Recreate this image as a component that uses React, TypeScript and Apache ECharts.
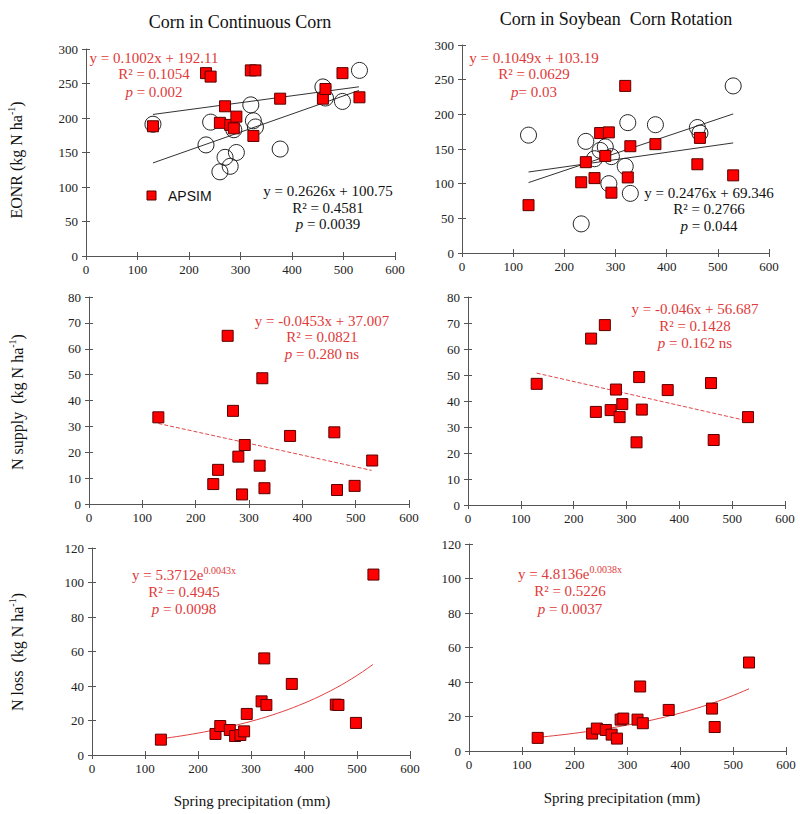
import React, { useEffect, useRef } from "react";
import * as echarts from "echarts";

// Spring precipitation (mm) for each site-year
const precipCC = [130, 233, 242, 260, 270, 280, 287, 292, 320, 325, 329, 377, 460, 465, 498, 531];
const precipSC = [130, 233, 242, 259, 270, 280, 287, 292, 319, 324, 329, 378, 460, 465, 530];

// EONR (kg N/ha)
const eonrCCApsim = [188, 265, 260, 193, 217, 190, 185, 202, 269, 174, 269, 228, 228, 242, 265, 230];
const eonrCCObs = [191, 161, 194, 122, 143, 130, 183, 150, 219, 196, 187, 155, 245, 229, 224, 269];
const eonrSCApsim = [69, 102, 131, 108, 173, 140, 174, 87, 241, 109, 154, 157, 128, 166, 112];
const eonrSCObs = [170, 42, 161, 136, 148, 153, 100, 139, 125, 188, 86, 185, 181, 173, 241];

// N supply (kg N/ha)
const nSupplyCC = [33.5, 7.7, 13.2, 65, 36, 18.3, 3.7, 22.8, 14.8, 48.6, 6.1, 26.3, 27.7, 5.4, 7.0, 16.8];
const nSupplySC = [46.6, 64, 35.8, 69.2, 36.5, 44.4, 33.8, 38.8, 24.1, 49.2, 36.7, 44.2, 46.9, 25, 33.8];

// N loss (kg N/ha)
const nLossCC = [8.9, 12.2, 16.8, 14.5, 11, 11.6, 13.7, 23.8, 31.1, 56, 29, 41.2, 29.2, 29, 18.6, 104.6];
const nLossSC = [7.6, 10.1, 13, 12.2, 9.5, 7.2, 18.2, 18.8, 18.2, 37.4, 16.1, 23.8, 24.6, 13.9, 51.3];

// Fitted trend coefficients shown on the chart
const fitEonrCCApsim = [0.1002, 192.11];
const fitEonrCCObs = [0.2626, 100.75];
const fitEonrSCApsim = [0.1049, 103.19];
const fitEonrSCObs = [0.2476, 69.346];
const fitSupplyCC = [-0.0453, 37.007];
const fitSupplySC = [-0.046, 56.687];
const fitLossCC = [5.3712, 0.0043];
const fitLossSC = [4.8136, 0.0038];
const fitRange = [130, 530];

// Axis ranges [min, max, interval]
const xRange = [0, 600, 100];
const eonrRange = [0, 300, 50];
const supplyRange = [0, 80, 10];
const lossRange = [0, 120, 20];

const SERIF = "Liberation Serif";
const SANS = "Liberation Sans";
const RED_TEXT = "#e03a3a";
const RED_FILL = "#ff0000";
const RED_EDGE = "#5a0000";

const pairs = (xs: number[], ys: number[]) => xs.map((x, i) => [x, ys[i]]);
const linFit = (c: number[]) => fitRange.map((x) => [x, c[0] * x + c[1]]);
const expFit = (c: number[]) => {
  const pts: number[][] = [];
  for (let x = fitRange[0]; x <= fitRange[1]; x += 10) pts.push([x, c[0] * Math.exp(c[1] * x)]);
  return pts;
};

const grids = [
  { left: 86, top: 49, width: 309, height: 207 },
  { left: 462, top: 45, width: 307, height: 208 },
  { left: 89, top: 297, width: 320, height: 207 },
  { left: 468, top: 297, width: 317, height: 208 },
  { left: 92, top: 548, width: 318, height: 207 },
  { left: 469, top: 544, width: 317, height: 207 },
];
const yRanges = [eonrRange, eonrRange, supplyRange, supplyRange, lossRange, lossRange];

const richSet = (color: string, size: number) => ({
  t: { fontFamily: SERIF, fontSize: size, fill: color, lineHeight: size + 4 },
  i: { fontFamily: SERIF, fontSize: size, fill: color, fontStyle: "italic", lineHeight: size + 4 },
  s: { fontFamily: SERIF, fontSize: Math.round(size * 0.65), fill: color, verticalAlign: "top", lineHeight: size + 4 },
});

const eq = (x: number, y: number, text: string, color: string) => ({
  type: "text",
  x,
  y,
  style: {
    text,
    fill: color,
    fontFamily: SERIF,
    fontSize: 15,
    align: "center",
    verticalAlign: "middle",
    rich: richSet(color, 15),
  },
});

const eqBlock = (cx: number, ys: number[], lines: string[], color: string) =>
  lines.map((t, i) => eq(cx, ys[i], t, color));

const yName = (x: number, y: number, label: string) => ({
  type: "text",
  x,
  y,
  rotation: Math.PI / 2,
  style: {
    text: `{t|${label}(kg N ha}{s|-1}{t|)}`,
    fill: "#111",
    fontFamily: SERIF,
    fontSize: 16,
    align: "center",
    verticalAlign: "middle",
    rich: richSet("#111", 16),
  },
});

const plain = (x: number, y: number, text: string, size: number, family = SERIF) => ({
  type: "text",
  x,
  y,
  style: { text, fill: "#111", fontFamily: family, fontSize: size, align: "center", verticalAlign: "middle" },
});

function buildOption() {
  const xAxis: any[] = [];
  const yAxis: any[] = [];
  grids.forEach((_, g) => {
    const yr = yRanges[g];
    xAxis.push({
      type: "value", gridIndex: g, position: "bottom", min: xRange[0], max: xRange[1], interval: xRange[2],
      axisLine: { show: true, onZero: false, lineStyle: { color: "#555", width: 1 } },
      axisTick: { show: true, length: 4, lineStyle: { color: "#555" } },
      axisLabel: { color: "#222", fontFamily: SERIF, fontSize: 13, margin: 7 },
      splitLine: { show: false },
    });
    xAxis.push({
      type: "value", gridIndex: g, position: "bottom", min: xRange[0], max: xRange[1], interval: xRange[2],
      axisLine: { show: false, onZero: false },
      axisTick: { show: true, inside: true, length: 4, lineStyle: { color: "#555" } },
      axisLabel: { show: false }, splitLine: { show: false },
    });
    yAxis.push({
      type: "value", gridIndex: g, position: "left", min: yr[0], max: yr[1], interval: yr[2],
      axisLine: { show: true, onZero: false, lineStyle: { color: "#555", width: 1 } },
      axisTick: { show: true, length: 4, lineStyle: { color: "#555" } },
      axisLabel: { color: "#222", fontFamily: SERIF, fontSize: 13, margin: 8 },
      splitLine: { show: false },
    });
    yAxis.push({
      type: "value", gridIndex: g, position: "left", min: yr[0], max: yr[1], interval: yr[2],
      axisLine: { show: false, onZero: false },
      axisTick: { show: true, inside: true, length: 4, lineStyle: { color: "#555" } },
      axisLabel: { show: false }, splitLine: { show: false },
    });
  });

  const squares = (g: number, data: number[][]) => ({
    type: "scatter", xAxisIndex: 2 * g, yAxisIndex: 2 * g, data, symbol: "rect", symbolSize: 11, z: 4,
    itemStyle: { color: RED_FILL, borderColor: RED_EDGE, borderWidth: 1, opacity: 1 },
  });
  const circles = (g: number, data: number[][]) => ({
    type: "scatter", xAxisIndex: 2 * g, yAxisIndex: 2 * g, data, symbol: "circle", symbolSize: 16, z: 3,
    itemStyle: { color: "rgba(255,255,255,0)", borderColor: "#222", borderWidth: 1, opacity: 1 },
  });
  const trend = (g: number, data: number[][], color: string, dashed = false) => ({
    type: "line", xAxisIndex: 2 * g, yAxisIndex: 2 * g, data, symbol: "none", smooth: false, z: 2,
    lineStyle: { color, width: 1, type: dashed ? [4, 2] : "solid" },
  });

  const series = [
    trend(0, linFit(fitEonrCCApsim), "#333"),
    trend(0, linFit(fitEonrCCObs), "#333"),
    circles(0, pairs(precipCC, eonrCCObs)),
    squares(0, pairs(precipCC, eonrCCApsim)),
    trend(1, linFit(fitEonrSCApsim), "#333"),
    trend(1, linFit(fitEonrSCObs), "#333"),
    circles(1, pairs(precipSC, eonrSCObs)),
    squares(1, pairs(precipSC, eonrSCApsim)),
    trend(2, linFit(fitSupplyCC), "#e04848", true),
    squares(2, pairs(precipCC, nSupplyCC)),
    trend(3, linFit(fitSupplySC), "#e04848", true),
    squares(3, pairs(precipSC, nSupplySC)),
    trend(4, expFit(fitLossCC), "#e04040"),
    squares(4, pairs(precipCC, nLossCC)),
    trend(5, expFit(fitLossSC), "#e04040"),
    squares(5, pairs(precipSC, nLossSC)),
  ];

  const graphic: any[] = [
    plain(240, 22, "Corn in Continuous Corn", 18),
    plain(616, 19, "Corn in Soybean  Corn Rotation", 18),
    yName(16, 160, "EONR "),
    yName(17, 402, "N supply  "),
    yName(17, 652, "N loss  "),
    plain(252, 801, "Spring precipitation (mm)", 15),
    plain(622, 798, "Spring precipitation (mm)", 15),
    // legend
    { type: "rect", shape: { x: 147, y: 191, width: 9, height: 9 }, style: { fill: RED_FILL, stroke: RED_EDGE, lineWidth: 1 } },
    { type: "text", x: 168, y: 196, style: { text: "APSIM", fill: "#111", fontFamily: SANS, fontSize: 14, align: "left", verticalAlign: "middle" } },
    ...eqBlock(154, [58, 74, 92], ["{t|y = 0.1002x + 192.11}", "{t|R² = 0.1054}", "{i|p}{t| = 0.002}"], RED_TEXT),
    ...eqBlock(328, [191, 208, 224], ["{t|y = 0.2626x + 100.75}", "{t|R² = 0.4581}", "{i|p}{t| = 0.0039}"], "#111"),
    ...eqBlock(534, [58, 74, 92], ["{t|y = 0.1049x + 103.19}", "{t|R² = 0.0629}", "{i|p}{t|= 0.03}"], RED_TEXT),
    ...eqBlock(709, [193, 209, 226], ["{t|y = 0.2476x + 69.346}", "{t|R² = 0.2766}", "{i|p}{t| = 0.044}"], "#111"),
    ...eqBlock(322, [321, 337, 354], ["{t|y = -0.0453x + 37.007}", "{t|R² = 0.0821}", "{i|p}{t| = 0.280 ns}"], RED_TEXT),
    ...eqBlock(695, [309, 326, 343], ["{t|y = -0.046x + 56.687}", "{t|R² = 0.1428}", "{i|p}{t| = 0.162 ns}"], RED_TEXT),
    ...eqBlock(184, [575, 592, 609], ["{t|y = 5.3712e}{s|0.0043x}", "{t|R² = 0.4945}", "{i|p}{t| = 0.0098}"], RED_TEXT),
    ...eqBlock(570, [574, 591, 609], ["{t|y = 4.8136e}{s|0.0038x}", "{t|R² = 0.5226}", "{i|p}{t| = 0.0037}"], RED_TEXT),
  ];

  return {
    animation: false,
    backgroundColor: "#ffffff",
    textStyle: { fontFamily: SERIF },
    grid: grids.map((g) => ({ ...g, containLabel: false })),
    xAxis,
    yAxis,
    series,
    graphic,
  };
}

export default function App() {
  const ref = useRef<HTMLDivElement>(null);
  useEffect(() => {
    if (!ref.current) return;
    const chart = echarts.init(ref.current, undefined, { renderer: "svg" });
    chart.setOption(buildOption() as any);
    return () => chart.dispose();
  }, []);
  return (
    <div
      ref={ref}
      style={{ position: "fixed", left: 0, top: 0, width: 800, height: 814, background: "#fff" }}
    />
  );
}
